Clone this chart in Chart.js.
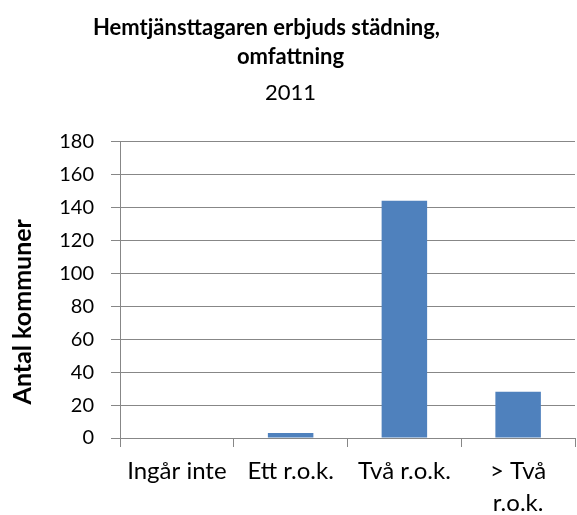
<!DOCTYPE html>
<html>
<head>
<meta charset="utf-8">
<script src="https://cdn.jsdelivr.net/npm/chart.js@4"></script>
<style>
  html, body { margin: 0; padding: 0; background: #fff; }
  #wrap { width: 577px; height: 515px; }
</style>
</head>
<body>
<div id="wrap"><canvas id="chart"></canvas></div>
<script>
const categories = ['Ingår inte', 'Ett r.o.k.', 'Två r.o.k.', ['> Två', 'r.o.k.']];
const values = [0, 3, 144, 28];
const yTicks = [0, 20, 40, 60, 80, 100, 120, 140, 160, 180];
const yTitle = 'Antal kommuner';

const font = 'Lato, "Liberation Sans", sans-serif';
const gridColor = '#878787';

// the axis title sits a bit below the middle of the plot, as in Excel
const yTitlePlugin = {
    id: 'yTitle',
    afterDraw(chart) {
        const c = chart.ctx;
        const area = chart.chartArea;
        c.save();
        c.translate(23, (area.top + area.bottom) / 2 + 22);
        c.rotate(-Math.PI / 2);
        c.font = 'bold 25px ' + font;
        c.fillStyle = '#000';
        c.textAlign = 'center';
        c.textBaseline = 'middle';
        c.fillText(yTitle, 0, 0);
        c.restore();
    }
};

const ctx = document.getElementById('chart').getContext('2d');
const chart = new Chart(ctx, {
    type: 'bar',
    data: {
        labels: categories,
        datasets: [{
            data: values,
            backgroundColor: '#4F81BD',
            barPercentage: 0.4,
            categoryPercentage: 1
        }]
    },
    options: {
        responsive: true,
        maintainAspectRatio: false,
        animation: false,
        layout: { padding: { left: 6, right: 2, top: 13, bottom: 0 } },
        plugins: {
            legend: { display: false },
            tooltip: { enabled: false },
            title: {
                display: true,
                // trailing spaces keep the first line off-centre like the wrapped Excel title
                text: ['Hemtjänsttagaren erbjuds städning,         ', 'omfattning'],
                color: '#000',
                font: { family: font, size: 22, weight: 'bold', lineHeight: 1.32 },
                padding: { top: 0, bottom: 9 }
            },
            subtitle: {
                display: true,
                text: '2011',
                color: '#000',
                font: { family: font, size: 22, lineHeight: 1.2 },
                padding: { top: 0, bottom: 35 }
            }
        },
        scales: {
            x: {
                grid: { display: true, drawOnChartArea: false, drawTicks: true, offset: true, tickLength: 9, color: gridColor },
                border: { display: true, color: gridColor },
                ticks: { color: '#000', font: { family: font, size: 24, lineHeight: 1.3 }, maxRotation: 0, autoSkip: false, padding: 9 },
                afterFit: (s) => { s.height = 77; }
            },
            y: {
                min: 0,
                max: 180,
                afterBuildTicks: (s) => { s.ticks = yTicks.map(v => ({ value: v })); },
                grid: { color: gridColor, tickLength: 9 },
                border: { display: true, color: gridColor },
                ticks: { color: '#000', font: { family: font, size: 20 }, padding: 17 },
                afterFit: (s) => { s.width = 114; }
            }
        }
    },
    plugins: [yTitlePlugin]
});
</script>
</body>
</html>
